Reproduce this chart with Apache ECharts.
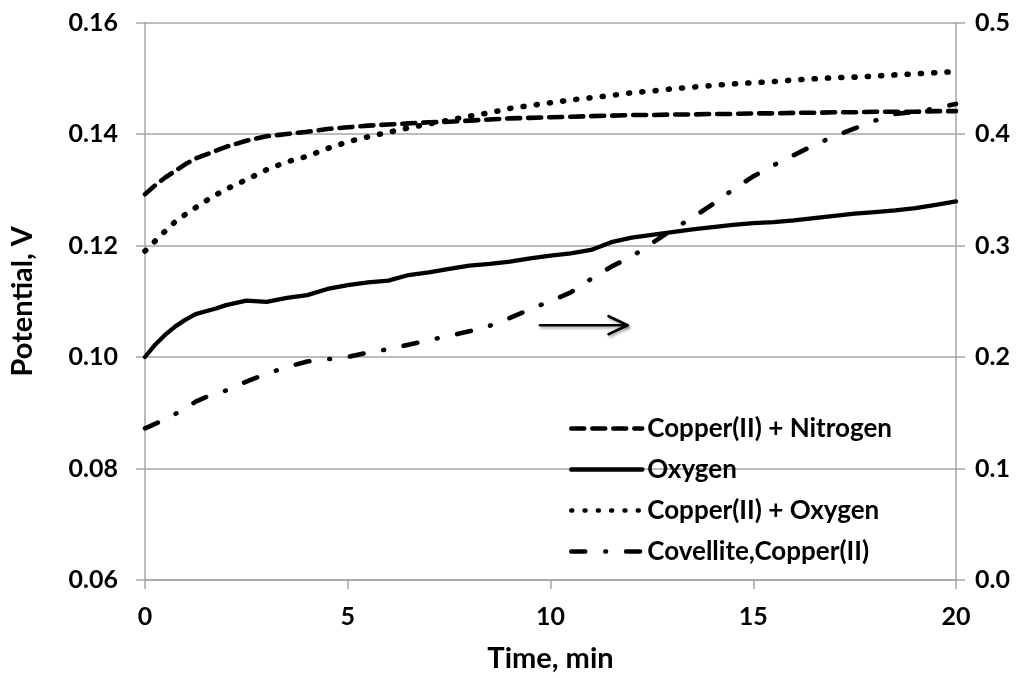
<!DOCTYPE html>
<html>
<head>
<meta charset="utf-8">
<script src="https://cdn.jsdelivr.net/npm/echarts@6/dist/echarts.min.js"></script>
<style>
  html, body { margin: 0; padding: 0; background: #fff; }
  #chart { width: 1026px; height: 678px; }
</style>
</head>
<body>
<div id="chart"></div>
<script>
// Time axis (minutes) shared by all four curves
const minutes = [0, 0.25, 0.5, 0.75, 1, 1.25, 1.5, 1.75, 2, 2.5, 3, 3.5, 4, 4.5, 5, 5.5, 6, 6.5, 7, 7.5,
  8, 8.5, 9, 9.5, 10, 10.5, 11, 11.5, 12, 12.5, 13, 13.5, 14, 14.5, 15, 15.5, 16, 16.5, 17, 17.5,
  18, 18.5, 19, 19.5, 20];

// Potential, V (left axis)
const copperNitrogen = [0.1292, 0.1308, 0.1322, 0.1334, 0.1346, 0.1356, 0.1363, 0.1370, 0.1377, 0.1388,
  0.1396, 0.1400, 0.1404, 0.1409, 0.1412, 0.1415, 0.1417, 0.1419, 0.1421, 0.1422, 0.1424, 0.1426, 0.1428,
  0.1429, 0.1430, 0.1431, 0.1432, 0.1433, 0.1434, 0.1434, 0.1435, 0.1435, 0.1436, 0.1436, 0.1437, 0.1437,
  0.1438, 0.1438, 0.1439, 0.1439, 0.1440, 0.1440, 0.1440, 0.1441, 0.1441];

const oxygen = [0.1000, 0.1022, 0.1040, 0.1055, 0.1067, 0.1077, 0.1082, 0.1087, 0.1093, 0.1101, 0.1099,
  0.1106, 0.1111, 0.1122, 0.1129, 0.1134, 0.1137, 0.1147, 0.1152, 0.1158, 0.1164, 0.1167, 0.1171, 0.1177,
  0.1182, 0.1186, 0.1192, 0.1206, 0.1214, 0.1219, 0.1224, 0.1229, 0.1233, 0.1237, 0.1240, 0.1242, 0.1245,
  0.1249, 0.1253, 0.1257, 0.1260, 0.1263, 0.1267, 0.1273, 0.1279];

const copperOxygen = [0.1190, 0.1208, 0.1226, 0.1243, 0.1256, 0.1268, 0.1280, 0.1291, 0.1301, 0.1318,
  0.1336, 0.1350, 0.1360, 0.1374, 0.1386, 0.1395, 0.1403, 0.1411, 0.1418, 0.1425, 0.1432, 0.1438, 0.1446,
  0.1451, 0.1456, 0.1461, 0.1465, 0.1469, 0.1474, 0.1477, 0.1481, 0.1484, 0.1487, 0.1490, 0.1492, 0.1494,
  0.1497, 0.1499, 0.1501, 0.1502, 0.1504, 0.1506, 0.1508, 0.1510, 0.1512];

// Potential, V (right axis)
const covellite = [0.136, 0.140, 0.144, 0.149, 0.154, 0.160, 0.164, 0.166, 0.170, 0.178, 0.185, 0.191,
  0.196, 0.198, 0.200, 0.204, 0.207, 0.211, 0.215, 0.219, 0.223, 0.228, 0.235, 0.243, 0.250, 0.258, 0.270,
  0.281, 0.290, 0.302, 0.314, 0.325, 0.337, 0.350, 0.362, 0.372, 0.381, 0.390, 0.398, 0.405, 0.412, 0.418,
  0.420, 0.423, 0.427];

const seriesNames = ['Copper(II) + Nitrogen', 'Oxygen', 'Copper(II) + Oxygen', 'Covellite,Copper(II)'];
const xTicks = [0, 5, 10, 15, 20];
const leftTicks = [0.06, 0.08, 0.10, 0.12, 0.14, 0.16];
const rightTicks = [0.0, 0.1, 0.2, 0.3, 0.4, 0.5];

// Arrow showing that the dash-dot curve belongs to the right axis (time, left-axis potential)
const arrowFrom = [9.74, 0.1057];
const arrowTo = [11.9, 0.1057];

const FONT = 'Lato, "Open Sans", sans-serif';
const GRID_COLOR = '#a6a6a6';

const pairs = (ys) => minutes.map((t, i) => [t, ys[i]]);

const chart = echarts.init(document.getElementById('chart'), null, { renderer: 'canvas' });

const lineSeries = (name, ys, yAxisIndex, width, dash) => ({
  name,
  type: 'line',
  yAxisIndex,
  data: pairs(ys),
  symbol: 'none',
  showSymbol: false,
  smooth: false,
  animation: false,
  color: '#000',
  itemStyle: { color: '#000' },
  lineStyle: { color: '#000', width, type: dash, cap: 'round', join: 'round' }
});

chart.setOption({
  animation: false,
  grid: { left: 144.5, right: 70, top: 22.5, bottom: 98, containLabel: false },
  legend: {
    orient: 'vertical',
    left: 569,
    top: 415,
    padding: 0,
    itemWidth: 71,
    itemHeight: 14,
    itemGap: 14,
    data: seriesNames,
    itemStyle: { opacity: 0 },
    lineStyle: { width: 4.5, cap: 'round' },
    textStyle: { fontFamily: FONT, fontWeight: 'bold', fontSize: 26, lineHeight: 27, color: '#000' },
    selectedMode: false
  },
  xAxis: {
    type: 'value',
    min: xTicks[0],
    max: xTicks[xTicks.length - 1],
    interval: 5,
    name: 'Time, min',
    nameLocation: 'middle',
    nameGap: 64,
    nameTextStyle: { fontFamily: FONT, fontWeight: 'bold', fontSize: 29, color: '#000' },
    axisLine: { show: true, lineStyle: { color: GRID_COLOR, width: 1.5 } },
    axisTick: { show: true, inside: false, length: 9, lineStyle: { color: GRID_COLOR, width: 1.5 } },
    axisLabel: { fontFamily: FONT, fontWeight: 'bold', fontSize: 25, color: '#000', margin: 24 },
    splitLine: { show: false }
  },
  yAxis: [
    {
      type: 'value',
      position: 'left',
      min: leftTicks[0],
      max: leftTicks[leftTicks.length - 1],
      interval: 0.02,
      name: 'Potential, V',
      nameLocation: 'middle',
      nameGap: 108,
      nameRotate: 90,
      nameTextStyle: { fontFamily: FONT, fontWeight: 'bold', fontSize: 29, color: '#000' },
      axisLine: { show: true, lineStyle: { color: GRID_COLOR, width: 1.5 } },
      axisTick: { show: true, inside: false, length: 9, lineStyle: { color: GRID_COLOR, width: 1.5 } },
      axisLabel: {
        fontFamily: FONT, fontWeight: 'bold', fontSize: 25, color: '#000', margin: 27,
        formatter: (v) => v.toFixed(2)
      },
      splitLine: { show: true, lineStyle: { color: GRID_COLOR, width: 1.5 } }
    },
    {
      type: 'value',
      position: 'right',
      min: rightTicks[0],
      max: rightTicks[rightTicks.length - 1],
      interval: 0.1,
      axisLine: { show: true, lineStyle: { color: GRID_COLOR, width: 1.5 } },
      axisTick: { show: true, inside: false, length: 9, lineStyle: { color: GRID_COLOR, width: 1.5 } },
      axisLabel: {
        fontFamily: FONT, fontWeight: 'bold', fontSize: 25, color: '#000', margin: 19,
        formatter: (v) => v.toFixed(1)
      },
      splitLine: { show: false }
    }
  ],
  series: [
    lineSeries(seriesNames[0], copperNitrogen, 0, 4.6, [13, 8]),
    lineSeries(seriesNames[1], oxygen, 0, 4.3, 'solid'),
    lineSeries(seriesNames[2], copperOxygen, 0, 5.6, [1, 12.3]),
    lineSeries(seriesNames[3], covellite, 1, 4.6, [14, 20, 0.8, 20])
  ]
});

// Right-pointing arrow annotation placed in data space
const p0 = chart.convertToPixel({ xAxisIndex: 0, yAxisIndex: 0 }, arrowFrom);
const p1 = chart.convertToPixel({ xAxisIndex: 0, yAxisIndex: 0 }, arrowTo);
const arrowStyle = {
  stroke: '#000', lineWidth: 2.6, lineCap: 'round', lineJoin: 'round', fill: null,
  shadowColor: 'rgba(0,0,0,0.35)', shadowBlur: 3, shadowOffsetX: 1.5, shadowOffsetY: 2
};
chart.setOption({
  graphic: [
    { type: 'line', silent: true, z: 10, shape: { x1: p0[0], y1: p0[1], x2: p1[0], y2: p1[1] }, style: arrowStyle },
    {
      type: 'polyline', silent: true, z: 10,
      shape: { points: [[p1[0] - 19, p1[1] - 9], [p1[0], p1[1]], [p1[0] - 19, p1[1] + 9]] },
      style: arrowStyle
    }
  ]
});
</script>
</body>
</html>
